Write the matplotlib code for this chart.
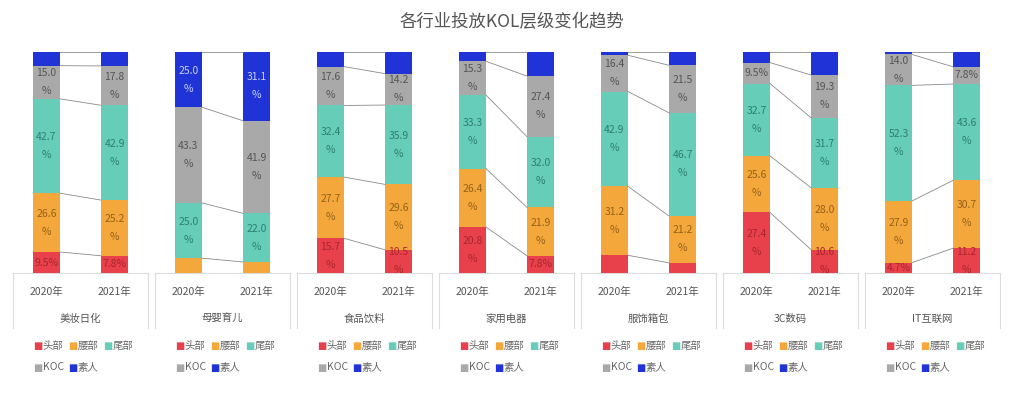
import matplotlib
matplotlib.use("Agg")
import matplotlib.pyplot as plt
import numpy as np

plt.rcParams["font.family"] = ["Noto Sans CJK SC", "DejaVu Sans"]

industries = ["美妆日化", "母婴育儿", "食品饮料", "家用电器", "服饰箱包", "3C数码", "IT互联网"]
years = ["2020年", "2021年"]
tiers = ["头部", "腰部", "尾部", "KOC", "素人"]

# share per tier, [2020, 2021] for each industry
head = [[9.5, 7.8], [0.0, 0.0], [15.7, 10.5], [20.8, 7.8], [8.0, 4.6], [27.4, 10.6], [4.7, 11.2]]
waist = [[26.6, 25.2], [6.7, 5.0], [27.7, 29.6], [26.4, 21.9], [31.2, 21.2], [25.6, 28.0], [27.9, 30.7]]
tail = [[42.7, 42.9], [25.0, 22.0], [32.4, 35.9], [33.3, 32.0], [42.9, 46.7], [32.7, 31.7], [52.3, 43.6]]
koc = [[15.0, 17.8], [43.3, 41.9], [17.6, 14.2], [15.3, 27.4], [16.4, 21.5], [9.5, 19.3], [14.0, 7.8]]
amateur = [[6.2, 6.3], [25.0, 31.1], [6.6, 9.8], [4.2, 10.9], [1.5, 6.0], [4.8, 10.4], [1.1, 6.7]]

# segments drawn without a value label in the original
hidden = {(1, 0), (1, 1), (4, 0)}

colors = ["#E8414B", "#F4A73B", "#66CDB8", "#A9A9A9", "#1F33D6"]
label_colors = ["#A8262F", "#94621A", "#2E7F71", "#555555", "#C9D1FF"]

W, H = 1024, 398
fig = plt.figure(figsize=(W / 100, H / 100), dpi=100)
fig.patch.set_facecolor("white")
fig.text(0.5, 1 - 22 / H, "各行业投放KOL层级变化趋势", ha="center", va="center",
         fontsize=12.5, color="#555555")

x = np.array([0, 1])
bw = 0.4
for i, name in enumerate(industries):
    ax = fig.add_axes([(13 + 142 * i) / W, (H - 273) / H, 135 / W, 221 / H])
    ax.set_xlim(-0.49, 1.49)
    ax.set_ylim(0, 100)
    ax.axis("off")
    vals = np.array([head[i], waist[i], tail[i], koc[i], amateur[i]])
    bottom = np.zeros(2)
    for k in range(5):
        ax.bar(x, vals[k], bw, bottom=bottom, color=colors[k], linewidth=0)
        if (i, k) not in hidden and k < 4 or (k == 4 and vals[k].min() >= 20):
            for j in range(2):
                v = vals[k][j]
                txt = f"{v:.1f}%" if v < 10 else f"{v:.1f}\n%"
                ax.text(x[j], bottom[j] + v / 2, txt, ha="center", va="center",
                        fontsize=7.5, color=label_colors[k], linespacing=2.0,
                        clip_on=False)
        bottom = bottom + vals[k]
        # connector between the two bars at each cumulative boundary
        ax.plot([bw / 2, 1 - bw / 2], bottom, color="#8a8a8a", lw=0.6)
    ax.plot([bw / 2, 1 - bw / 2], [0, 0], color="#8a8a8a", lw=0.6)

    # table frame under the bars
    fc = "#dcdcdc"
    ax.plot([-0.49, 1.49], [0, 0], color=fc, lw=0.8, clip_on=False, zorder=0)
    ax.plot([-0.49, -0.49], [0, -25], color=fc, lw=0.8, clip_on=False)
    ax.plot([1.49, 1.49], [0, -25], color=fc, lw=0.8, clip_on=False)
    for j in range(2):
        ax.text(x[j], -8.6, years[j], ha="center", va="center", fontsize=7.5,
                color="#555555")
    ax.text(0.5, -20.8, name, ha="center", va="center", fontsize=7.5, color="#555555")

    # legend, two rows
    x0 = 13 + 142 * i
    rows = [[(0, 20), (1, 55), (2, 90)], [(3, 20), (4, 55)]]
    for r, items in enumerate(rows):
        yy = 1 - (346 + 21.5 * r) / H
        for k, dx in items:
            fig.text((x0 + dx) / W, yy, "■", ha="left", va="center", fontsize=7,
                     color=colors[k], family=["DejaVu Sans"])
            fig.text((x0 + dx + 9.5) / W, yy, tiers[k], ha="left", va="center",
                     fontsize=7.5, color="#666666")

fig.savefig("out.png", dpi=100, facecolor="white")
